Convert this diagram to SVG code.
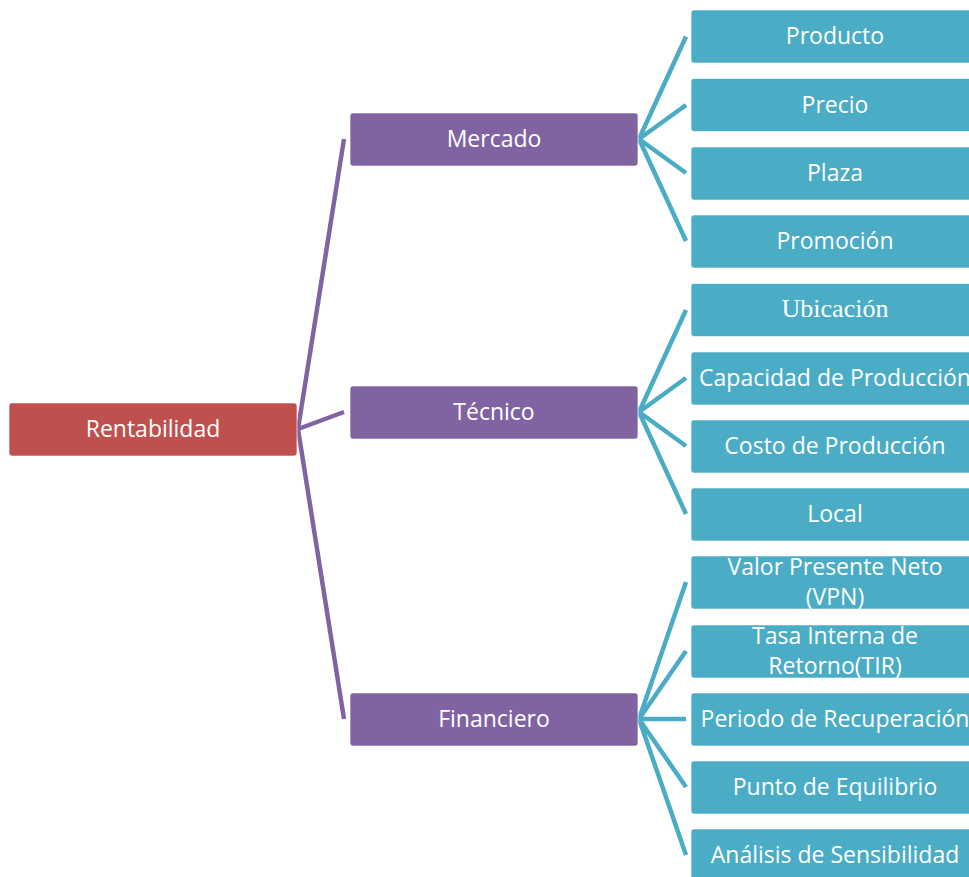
<svg xmlns="http://www.w3.org/2000/svg" width="969" height="877" viewBox="0 0 969 877">
<style>
.box{stroke:#ffffff;stroke-opacity:0.55;stroke-width:1.2}
.red{fill:#C0504D}
.pur{fill:#8064A2}
.teal{fill:#4BACC6}
.t{font-family:"Open Sans","Noto Sans",sans-serif;font-size:23px;fill:#ffffff;text-anchor:middle}
.s{font-family:"Liberation Serif","DejaVu Serif",serif;font-size:26px;fill:#ffffff;text-anchor:middle}
.pl{stroke:#8064A2;stroke-width:4.5;fill:none;stroke-linecap:butt}
.tl{stroke:#4BACC6;stroke-width:4.5;fill:none;stroke-linecap:butt}
</style>
<rect width="969" height="877" fill="#ffffff"/>
<g id="connectors">
<line class="pl" x1="298" y1="429" x2="344" y2="139"/>
<line class="pl" x1="298" y1="429" x2="344" y2="412"/>
<line class="pl" x1="298" y1="429" x2="344" y2="719"/>
<line class="tl" x1="639" y1="139" x2="686" y2="36.5"/>
<line class="tl" x1="639" y1="139" x2="686" y2="105"/>
<line class="tl" x1="639" y1="139" x2="686" y2="173"/>
<line class="tl" x1="639" y1="139" x2="686" y2="241"/>
<line class="tl" x1="639" y1="412" x2="686" y2="310"/>
<line class="tl" x1="639" y1="412" x2="686" y2="378"/>
<line class="tl" x1="639" y1="412" x2="686" y2="446"/>
<line class="tl" x1="639" y1="412" x2="686" y2="514"/>
<line class="tl" x1="639" y1="719" x2="686" y2="582"/>
<line class="tl" x1="639" y1="719" x2="686" y2="651"/>
<line class="tl" x1="639" y1="719" x2="686" y2="719"/>
<line class="tl" x1="639" y1="719" x2="686" y2="787"/>
<line class="tl" x1="639" y1="719" x2="686" y2="855"/>
</g>
<g id="rentabilidad"><rect class="box red" x="9" y="403" width="288" height="53" rx="3"/><text class="t" x="153" y="437">Rentabilidad</text></g>
<g id="mercado"><rect class="box pur" x="350" y="113" width="288" height="53" rx="3"/><text class="t" x="494" y="147">Mercado</text></g>
<g id="tecnico"><rect class="box pur" x="350" y="386" width="288" height="53" rx="3"/><text class="t" x="494" y="420">Técnico</text></g>
<g id="financiero"><rect class="box pur" x="350" y="693" width="288" height="53" rx="3"/><text class="t" x="494" y="727">Financiero</text></g>
<g id="producto"><rect class="box teal" x="691" y="10" width="288" height="53" rx="3"/><text class="t" x="835" y="44">Producto</text></g>
<g id="precio"><rect class="box teal" x="691" y="78.5" width="288" height="53" rx="3"/><text class="t" x="835" y="112.5">Precio</text></g>
<g id="plaza"><rect class="box teal" x="691" y="147" width="288" height="53" rx="3"/><text class="t" x="835" y="181">Plaza</text></g>
<g id="promocion"><rect class="box teal" x="691" y="215" width="288" height="53" rx="3"/><text class="t" x="835" y="249">Promoción</text></g>
<g id="ubicacion"><rect class="box teal" x="691" y="283.5" width="288" height="53" rx="3"/><text class="s" x="835" y="317">Ubicación</text></g>
<g id="capacidad"><rect class="box teal" x="691" y="352" width="288" height="53" rx="3"/><text class="t" x="835" y="386">Capacidad de Producción</text></g>
<g id="costo"><rect class="box teal" x="691" y="420" width="288" height="53" rx="3"/><text class="t" x="835" y="454">Costo de Producción</text></g>
<g id="local"><rect class="box teal" x="691" y="488" width="288" height="53" rx="3"/><text class="t" x="835" y="522">Local</text></g>
<g id="vpn"><rect class="box teal" x="691" y="556" width="288" height="53" rx="3"/><text class="t" x="835" y="575">Valor Presente Neto</text><text class="t" x="835" y="605">(VPN)</text></g>
<g id="tir"><rect class="box teal" x="691" y="625" width="288" height="53" rx="3"/><text class="t" x="835" y="644">Tasa Interna de</text><text class="t" x="835" y="674">Retorno(TIR)</text></g>
<g id="periodo"><rect class="box teal" x="691" y="693" width="288" height="53" rx="3"/><text class="t" x="835" y="727">Periodo de Recuperación</text></g>
<g id="punto"><rect class="box teal" x="691" y="761" width="288" height="53" rx="3"/><text class="t" x="835" y="795">Punto de Equilibrio</text></g>
<g id="analisis"><rect class="box teal" x="691" y="829" width="288" height="53" rx="3"/><text class="t" x="835" y="863">Análisis de Sensibilidad</text></g>
</svg>
